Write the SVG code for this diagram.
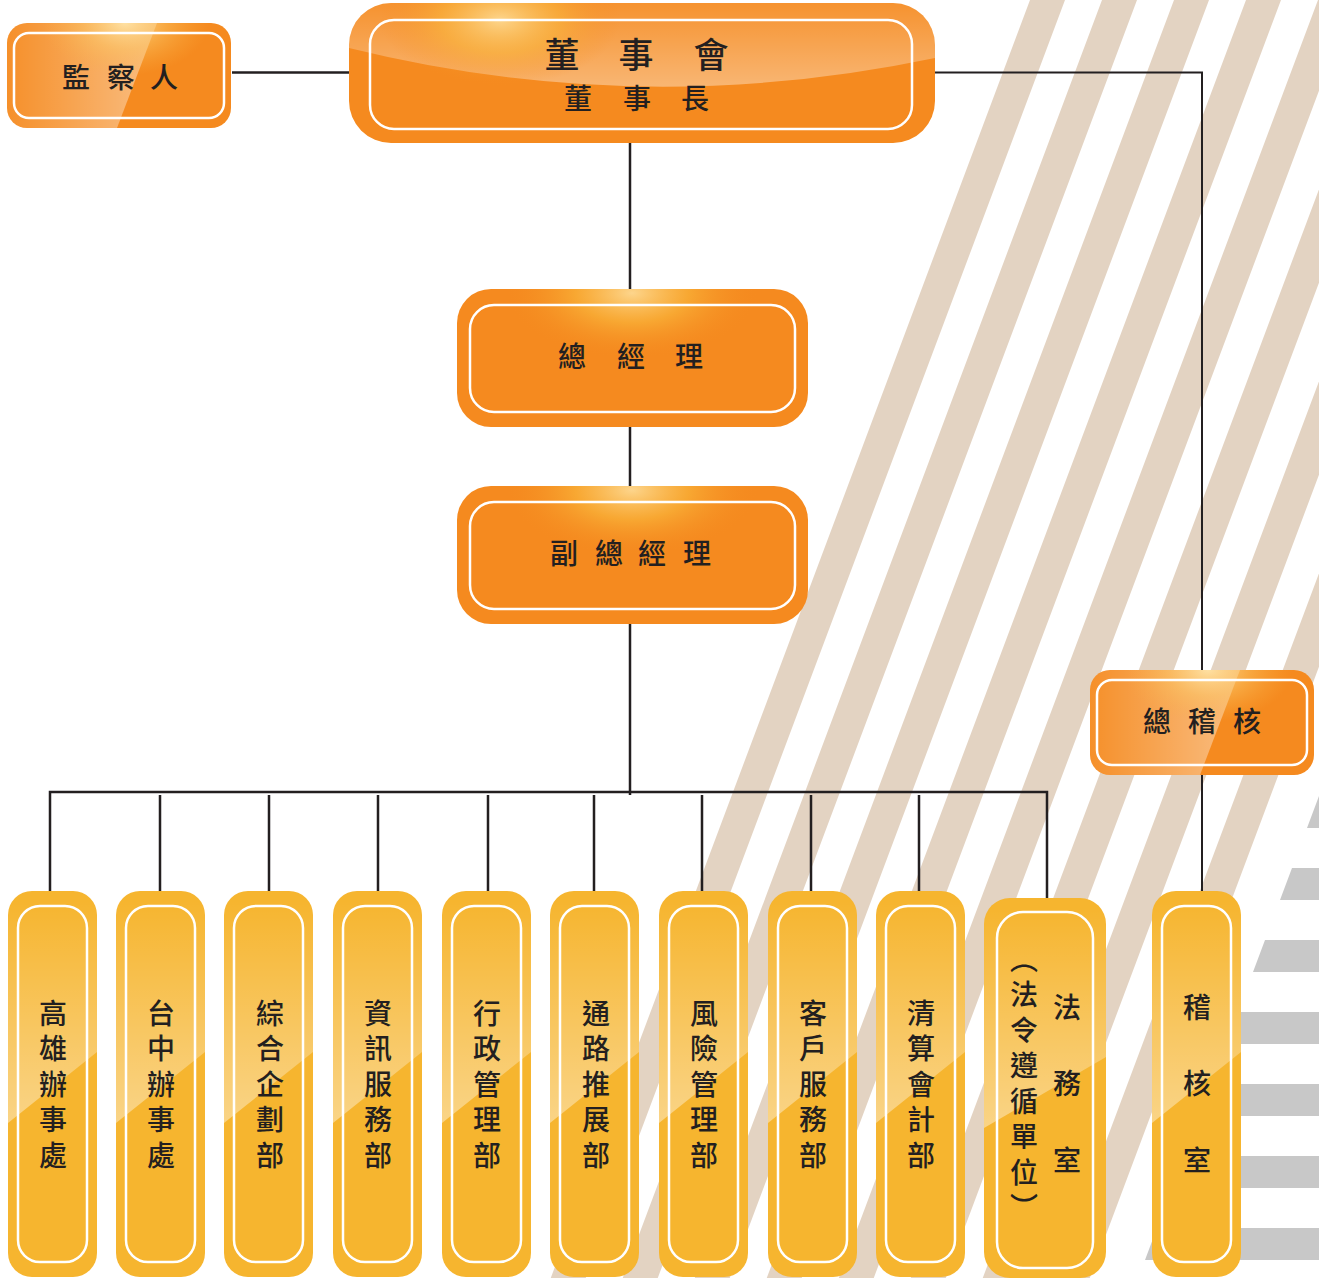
<svg xmlns="http://www.w3.org/2000/svg" width="1319" height="1278" viewBox="0 0 1319 1278">
<style>
.t{font-family:"Noto Sans CJK TC","Noto Sans CJK JP",sans-serif;fill:#231F20;text-anchor:middle;font-weight:500;font-size:28px}
.v{writing-mode:vertical-rl;letter-spacing:7.5px}
.v3{writing-mode:vertical-rl;letter-spacing:48.5px}
.c{fill:none;stroke:#231F20;stroke-width:2.5}
.c2{fill:none;stroke:#231F20;stroke-width:2}
.stripe{fill:#E3D3C2}
.bar{fill:#C8C8C8}
.inner{fill:none;stroke:#fff;stroke-width:2.5}
.or{fill:#F58A1F}
.ye{fill:#F6B52F}
</style>
<defs>
  <clipPath id="stripeClip"><polygon points="0,0 1319,0 1319,796 1138.25,1278 0,1278"/></clipPath>
  <clipPath id="barClip"><polygon points="1319,796 1138.25,1278 1319,1278"/></clipPath>

  <linearGradient id="vg" x1="0" y1="10" x2="0" y2="232" gradientUnits="userSpaceOnUse">
    <stop offset="0" stop-color="#fff" stop-opacity="0"/>
    <stop offset="1" stop-color="#fff" stop-opacity="0.42"/>
  </linearGradient>
  <clipPath id="vclip"><rect width="89" height="386" rx="24"/></clipPath>
  <g id="vbox">
    <rect width="89" height="386" rx="24" class="ye"/>
    <polygon points="0,0 89,0 89,161 0,232" fill="url(#vg)" clip-path="url(#vclip)"/>
    <rect x="10" y="15" width="69" height="356" rx="22" class="inner"/>
  </g>

  <linearGradient id="hg" x1="0" y1="0" x2="140" y2="0" gradientUnits="userSpaceOnUse">
    <stop offset="0" stop-color="#fff" stop-opacity="0.05"/>
    <stop offset="1" stop-color="#fff" stop-opacity="0.42"/>
  </linearGradient>
  <radialGradient id="hglow" cx="118" cy="0" r="70" gradientUnits="userSpaceOnUse" gradientTransform="translate(118,0) scale(1.2,0.75) translate(-118,0)">
    <stop offset="0" stop-color="#FFE3A6" stop-opacity="0.95"/>
    <stop offset="0.5" stop-color="#FBC561" stop-opacity="0.5"/>
    <stop offset="1" stop-color="#F9B040" stop-opacity="0"/>
  </radialGradient>
  <clipPath id="hclip"><rect width="224" height="105" rx="20"/></clipPath>
  <g id="hbox">
    <rect width="224" height="105" rx="20" class="or"/>
    <g clip-path="url(#hclip)">
      <polygon points="0,0 150,0 110,105 0,105" fill="url(#hg)"/>
      <rect width="224" height="105" fill="url(#hglow)"/>
    </g>
    <rect x="7" y="10" width="210" height="85" rx="15" class="inner"/>
  </g>

  <radialGradient id="mglow" cx="175" cy="4" r="110" gradientUnits="userSpaceOnUse" gradientTransform="translate(175,4) scale(1.15,0.6) translate(-175,-4)">
    <stop offset="0" stop-color="#FDD58C" stop-opacity="1"/>
    <stop offset="0.45" stop-color="#F9B43A" stop-opacity="0.7"/>
    <stop offset="1" stop-color="#F58A1F" stop-opacity="0"/>
  </radialGradient>
  <g id="mbox">
    <rect width="351" height="138" rx="34" class="or"/>
    <rect width="351" height="138" rx="34" fill="url(#mglow)"/>
    <rect x="13" y="16" width="325" height="107" rx="24" class="inner"/>
  </g>

  <clipPath id="bclip"><rect x="349" y="3" width="586" height="140" rx="42"/></clipPath>
  <linearGradient id="bg1" x1="0" y1="5" x2="0" y2="88" gradientUnits="userSpaceOnUse">
    <stop offset="0" stop-color="#fff" stop-opacity="0.08"/>
    <stop offset="1" stop-color="#fff" stop-opacity="0.38"/>
  </linearGradient>
  <radialGradient id="bglow" cx="500" cy="20" r="120" gradientUnits="userSpaceOnUse" gradientTransform="translate(500,20) scale(1,0.55) translate(-500,-20)">
    <stop offset="0" stop-color="#FDD58C" stop-opacity="1"/>
    <stop offset="0.5" stop-color="#F9B43A" stop-opacity="0.6"/>
    <stop offset="1" stop-color="#F58A1F" stop-opacity="0"/>
  </radialGradient>

  <linearGradient id="lg" x1="0" y1="908" x2="0" y2="1128" gradientUnits="userSpaceOnUse">
    <stop offset="0" stop-color="#fff" stop-opacity="0"/>
    <stop offset="1" stop-color="#fff" stop-opacity="0.42"/>
  </linearGradient>
  <clipPath id="lclip"><rect x="984" y="898" width="122" height="380" rx="26"/></clipPath>
</defs>

<rect width="1319" height="1278" fill="#fff"/>

<g id="background">
  <g clip-path="url(#stripeClip)">
    <polygon class="stripe" points="1030,0 1065,0 585.75,1278 550.75,1278"/>
    <polygon class="stripe" points="1102,0 1137,0 657.75,1278 622.75,1278"/>
    <polygon class="stripe" points="1174,0 1209,0 729.75,1278 694.75,1278"/>
    <polygon class="stripe" points="1246,0 1281,0 801.75,1278 766.75,1278"/>
    <polygon class="stripe" points="1318,0 1353,0 873.75,1278 838.75,1278"/>
    <polygon class="stripe" points="1390,0 1425,0 945.75,1278 910.75,1278"/>
    <polygon class="stripe" points="1462,0 1497,0 1017.75,1278 982.75,1278"/>
    <polygon class="stripe" points="1534,0 1569,0 1089.75,1278 1054.75,1278"/>
  </g>
  <g clip-path="url(#barClip)">
    <rect class="bar" x="1100" y="796" width="219" height="32"/>
    <rect class="bar" x="1100" y="868" width="219" height="32"/>
    <rect class="bar" x="1100" y="940" width="219" height="32"/>
    <rect class="bar" x="1100" y="1012" width="219" height="32"/>
    <rect class="bar" x="1100" y="1084" width="219" height="32"/>
    <rect class="bar" x="1100" y="1156" width="219" height="32"/>
    <rect class="bar" x="1100" y="1228" width="219" height="32"/>
  </g>
</g>

<g id="connectors">
  <path class="c" d="M232,72.5 H350"/>
  <path class="c2" d="M934,72.5 H1202 V671"/>
  <path class="c2" d="M1202,772 V893"/>
  <path class="c" d="M630,142 V290"/>
  <path class="c" d="M630,426 V486"/>
  <path class="c" d="M630,623 V795"/>
  <path class="c" d="M50,892 V792 H1047 V899"/>
  <path class="c" d="M160,795 V892 M269,795 V892 M378,795 V892 M488,795 V892 M594,795 V892 M702,795 V892 M811,795 V892 M919,795 V892"/>
</g>

<g id="node-supervisor">
  <use href="#hbox" x="7" y="23"/>
  <text class="t"><tspan x="76" y="88">監</tspan><tspan x="121" y="88">察</tspan><tspan x="164" y="88">人</tspan></text>
</g>

<g id="node-board">
  <rect x="349" y="3" width="586" height="140" rx="42" class="or"/>
  <g clip-path="url(#bclip)">
    <path d="M349,0 H935 V58 Q640,120 349,48 Z" fill="url(#bg1)"/>
    <rect x="349" y="3" width="586" height="140" fill="url(#bglow)"/>
  </g>
  <rect x="370" y="20" width="542" height="109" rx="24" class="inner"/>
  <text class="t" style="font-size:35px"><tspan x="562" y="68">董</tspan><tspan x="636" y="68">事</tspan><tspan x="711" y="68">會</tspan></text>
  <text class="t"><tspan x="578" y="109">董</tspan><tspan x="637" y="109">事</tspan><tspan x="695" y="109">長</tspan></text>
</g>

<g id="node-gm">
  <use href="#mbox" x="457" y="289"/>
  <text class="t"><tspan x="572" y="367">總</tspan><tspan x="631" y="367">經</tspan><tspan x="689" y="367">理</tspan></text>
</g>

<g id="node-vgm">
  <use href="#mbox" x="457" y="486"/>
  <text class="t"><tspan x="564" y="564">副</tspan><tspan x="609" y="564">總</tspan><tspan x="652" y="564">經</tspan><tspan x="697" y="564">理</tspan></text>
</g>

<g id="node-chief-auditor">
  <use href="#hbox" x="1090" y="670"/>
  <text class="t"><tspan x="1157" y="732">總</tspan><tspan x="1202" y="732">稽</tspan><tspan x="1247" y="732">核</tspan></text>
</g>

<g id="node-kaohsiung">
  <use href="#vbox" x="8" y="891"/>
  <text class="t v" x="53" y="1088">高雄辦事處</text>
</g>
<g id="node-taichung">
  <use href="#vbox" x="116" y="891"/>
  <text class="t v" x="161" y="1088">台中辦事處</text>
</g>
<g id="node-planning">
  <use href="#vbox" x="224" y="891"/>
  <text class="t v" x="270" y="1088">綜合企劃部</text>
</g>
<g id="node-it">
  <use href="#vbox" x="333" y="891"/>
  <text class="t v" x="378" y="1088">資訊服務部</text>
</g>
<g id="node-admin">
  <use href="#vbox" x="442" y="891"/>
  <text class="t v" x="487" y="1088">行政管理部</text>
</g>
<g id="node-channel">
  <use href="#vbox" x="550" y="891"/>
  <text class="t v" x="596" y="1088">通路推展部</text>
</g>
<g id="node-risk">
  <use href="#vbox" x="659" y="891"/>
  <text class="t v" x="704" y="1088">風險管理部</text>
</g>
<g id="node-customer">
  <use href="#vbox" x="768" y="891"/>
  <text class="t v" x="813" y="1088">客戶服務部</text>
</g>
<g id="node-clearing">
  <use href="#vbox" x="876" y="891"/>
  <text class="t v" x="921" y="1088">清算會計部</text>
</g>

<g id="node-legal">
  <rect x="984" y="898" width="122" height="380" rx="26" class="ye"/>
  <polygon points="984,898 1106,898 1106,1057 984,1128" fill="url(#lg)" clip-path="url(#lclip)"/>
  <rect x="997" y="912" width="96" height="356" rx="26" class="inner"/>
  <text class="t v3" x="1067" y="1108">法務室</text>
  <text class="t v" x="1024" y="1087">（法令遵循單位）</text>
</g>

<g id="node-audit">
  <use href="#vbox" x="1152" y="891"/>
  <text class="t v3" x="1197" y="1108">稽核室</text>
</g>
</svg>
